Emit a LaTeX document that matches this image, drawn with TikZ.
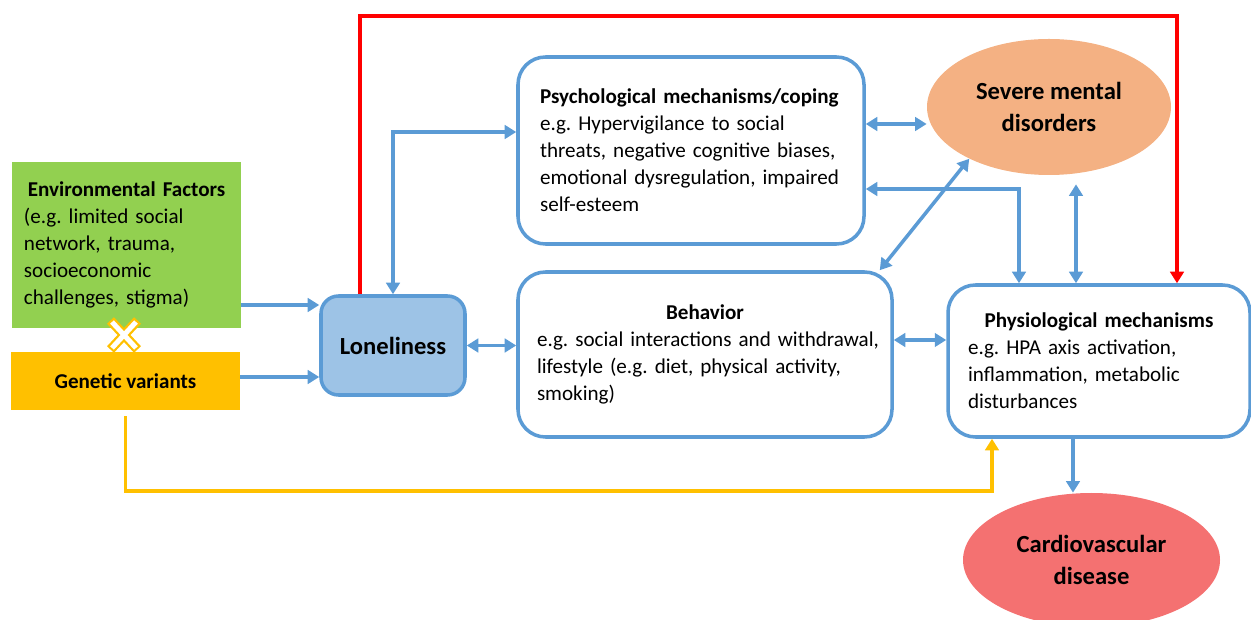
\documentclass[tikz,border=0pt]{standalone}
\usepackage{fontspec}
\setmainfont{Carlito}
\frenchspacing
\usetikzlibrary{positioning,shapes.geometric,calc,arrows.meta}
\definecolor{linkblue}{RGB}{91,155,213}
\definecolor{lonblue}{RGB}{157,195,230}
\definecolor{envgreen}{RGB}{146,208,80}
\definecolor{genyellow}{RGB}{255,192,0}
\definecolor{smdorange}{RGB}{244,177,131}
\definecolor{cvdred}{RGB}{244,113,113}
\definecolor{pathred}{RGB}{255,0,0}
\tikzset{
  mechbox/.style={draw=linkblue, line width=2pt, fill=white, rounded corners=0.55cm,
                  align=left, inner ysep=0pt, font=\fontsize{12}{15.4}\selectfont},
  factbox/.style={draw=none, inner ysep=0pt, align=left,
                  font=\fontsize{12}{15.4}\selectfont},
  outcome/.style={ellipse, draw=none, align=center, inner sep=0pt,
                  font=\fontsize{14}{18}\selectfont\bfseries},
  tip/.style={Triangle[length=2.3mm,width=2.7mm]},
  link/.style={-{Triangle[length=2.3mm,width=2.7mm]}, draw=linkblue, line width=2pt},
  dlink/.style={{Triangle[length=2.3mm,width=2.7mm]}-{Triangle[length=2.3mm,width=2.7mm]},
                draw=linkblue, line width=2pt},
  redlink/.style={-{Triangle[length=2.3mm,width=2.7mm]}, draw=pathred, line width=2.2pt},
  genlink/.style={-{Triangle[length=2.3mm,width=2.7mm]}, draw=genyellow, line width=2pt},
}

\begin{document}
\begin{tikzpicture}
  \useasboundingbox (0,0) rectangle (25.02,12.38);

  % factors
  \node[factbox, fill=envgreen, minimum width=4.58cm, minimum height=3.32cm,
        text width=4.10cm, inner xsep=0.24cm] (env) at (2.53,7.48)
        {{\centering\bfseries Environmental Factors\par}(e.g. limited social\\network, trauma,\\socioeconomic\\challenges, stigma)};
  \node[factbox, fill=genyellow, minimum width=4.58cm, minimum height=1.16cm,
        font=\fontsize{12}{15.4}\selectfont\bfseries] (gen) at (2.51,4.76) {Genetic variants};
  \node[draw=linkblue, fill=lonblue, line width=2pt, rounded corners=0.35cm,
        minimum width=2.88cm, minimum height=1.98cm,
        font=\fontsize{14}{17}\selectfont\bfseries] (lon) at (7.86,5.47) {Loneliness};

  % mechanisms
  \node[mechbox, minimum width=6.92cm, minimum height=3.74cm, text width=6.04cm,
        inner xsep=0.44cm] (psych) at (13.82,9.37)
        {\textbf{Psychological mechanisms/coping}\\e.g. Hypervigilance to social\\threats, negative cognitive biases,\\emotional dysregulation, impaired\\self-esteem};
  \node[mechbox, minimum width=7.48cm, minimum height=3.30cm, text width=6.96cm,
        inner xsep=0.26cm] (beh) at (14.10,5.29)
        {{\centering\textbf{Behavior}\par}\hspace*{0.12cm}e.g. social interactions and withdrawal,\\\hspace*{0.12cm}lifestyle (e.g. diet, physical activity,\\\hspace*{0.12cm}smoking)};
  \node[mechbox, minimum width=6.04cm, minimum height=3.04cm, text width=5.24cm,
        inner xsep=0.40cm] (phys) at (21.98,5.16)
        {{\centering\textbf{Physiological mechanisms}\par}e.g. HPA axis activation,\\inflammation, metabolic\\disturbances};

  % outcomes
  \node[outcome, fill=smdorange, minimum width=4.88cm, minimum height=2.72cm] (smd) at (20.98,10.24)
        {Severe mental\\disorders};
  \node[outcome, fill=cvdred, minimum width=5.14cm, minimum height=2.68cm] (cvd) at (21.83,1.18)
        {Cardiovascular\\disease};

  % gene x environment
  \coordinate (gxe) at (2.48,5.68);
  \draw[genyellow, line width=0.19cm] ($(gxe)+(-0.27,-0.29)$) -- ($(gxe)+(0.27,0.29)$)
                                      ($(gxe)+(-0.27,0.29)$) -- ($(gxe)+(0.27,-0.29)$);
  \draw[white, line width=0.1cm] ($(gxe)+(-0.24,-0.26)$) -- ($(gxe)+(0.24,0.26)$)
                                 ($(gxe)+(-0.24,0.26)$) -- ($(gxe)+(0.24,-0.26)$);

  % connectors
  \draw[link] ([yshift=-1.20cm]env.east) -- ([yshift=-1.20cm]env.east -| lon.west);
  \draw[link] ([yshift=0.08cm]gen.east) -- ([yshift=0.08cm]gen.east -| lon.west);
  \draw[dlink] (lon.north) |- ([yshift=0.37cm]psych.west);
  \draw[dlink] (lon.east) -- (lon.east -| beh.west);
  \draw[dlink] ([yshift=0.29cm]beh.east) -- ([yshift=0.29cm]beh.east -| phys.west);
  \draw[dlink] ([yshift=0.53cm]psych.east) -- ([yshift=0.53cm]psych.east -| smd.west);
  \draw[dlink] ([yshift=-0.77cm]psych.east) -| ([xshift=-1.60cm]phys.north);
  \draw[dlink] ([xshift=-0.28cm]beh.north east) -- (smd.213);
  \coordinate (smdlow) at ([shift={(0.54,-0.18)}]smd.south);
  \draw[dlink] (smdlow) -- (smdlow |- phys.north);
  \draw[link] ([xshift=-0.52cm]phys.south) -- ([xshift=-0.52cm]phys.south |- cvd.north);

  \coordinate (redtop) at (23.54,12.06);
  \draw[redlink] ([xshift=-0.66cm]lon.north) |- (redtop) -- (redtop |- phys.north);

  \coordinate (genlow) at ([xshift=-2.14cm, yshift=-1.04cm]phys.south);
  \draw[genlink] ([yshift=-0.12cm]gen.south) |- (genlow) -- ([xshift=-2.14cm]phys.south);

\end{tikzpicture}
\end{document}
